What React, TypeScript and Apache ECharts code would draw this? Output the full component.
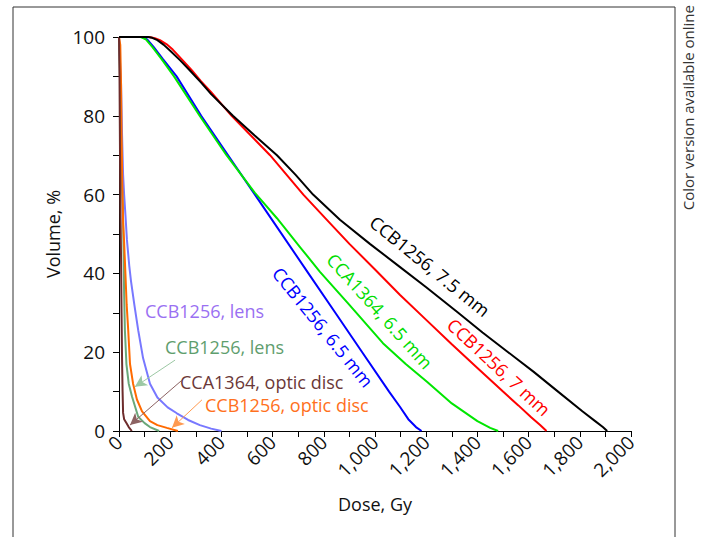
import React, { useEffect, useRef } from "react";
import * as echarts from "echarts";

// ---- data (dose in Gy, volume in %) ----
const black75Dose = [0, 113, 130, 150, 175, 200, 240, 277, 320, 360, 445, 530, 617, 690, 758, 863, 980, 1098, 1200, 1325, 1420, 1520, 1620, 1715, 1810, 1860, 1890, 1907];
const black75Vol = [100, 100, 99.8, 99.2, 98, 96.5, 94, 91.5, 88.5, 85.5, 80, 75, 70, 65, 60, 53.6, 47.5, 41.6, 36.5, 30, 25, 20, 15, 10, 5, 2.5, 1, 0];

const red7Dose = [0, 118, 140, 160, 185, 210, 250, 285, 320, 360, 440, 515, 590, 655, 720, 812, 900, 1000, 1098, 1200, 1300, 1400, 1500, 1560, 1610, 1645, 1670];
const red7Vol = [100, 100, 99.7, 99.2, 98.2, 96.8, 94, 91.5, 88.8, 86, 80, 75, 70, 65, 60, 53.6, 47.5, 41, 34.5, 28.2, 22, 16, 10, 6.5, 3.5, 1.5, 0];

const green65Dose = [0, 85, 105, 130, 165, 215, 315, 420, 530, 617, 707, 785, 900, 1031, 1120, 1203, 1300, 1400, 1450, 1481];
const green65Vol = [100, 100, 99.4, 97.5, 94.5, 90, 80, 70, 60.5, 54, 46.7, 40.4, 32, 22.3, 17, 12.5, 7, 2.5, 0.8, 0];

const blue65Dose = [0, 90, 110, 135, 170, 225, 321, 426, 531, 598, 740, 845, 950, 1055, 1098, 1130, 1160, 1182];
const blue65Vol = [100, 100, 99.4, 97.5, 94.5, 90, 80, 70, 60, 53.6, 40, 30, 20, 10, 6.1, 3, 1, 0];

const lensBDose = [0, 3, 8, 12, 16, 20, 25, 31, 40, 47, 60, 75, 94, 121, 150, 190, 226, 270, 316, 360, 400];
const lensBVol = [100, 95, 88, 75, 65, 60, 55, 48.5, 42, 38, 32, 25.6, 18.5, 12, 8.5, 6, 4.5, 2.8, 1.5, 0.6, 0];

const lensGDose = [0, 4, 8, 12, 15, 18, 20, 23, 29, 38, 51, 75, 100, 121, 157];
const lensGVol = [100, 90, 75, 62, 57, 45, 35, 25.6, 17, 12, 8.7, 3.6, 2, 1, 0];

const discBDose = [0, 5, 8, 10, 13, 16, 20, 25, 30, 36, 43, 55, 70, 90, 121, 150, 187, 230];
const discBVol = [100, 98, 88, 75, 62, 53, 48, 40, 32, 25.6, 17, 12, 8, 5, 2.5, 1.5, 0.8, 0];

const discCDose = [0, 2, 4, 6, 8, 10, 12, 14, 16, 20, 29, 38, 50];
const discCVol = [100, 90, 70, 55, 44, 30, 18, 10, 4.6, 3, 2, 1, 0];

// arrows: [fromDose, fromVol, toDose, toVol]
const arrowLensG = [219, 18, 62, 11.2];
const arrowDiscC = [246, 12.9, 43, 1.5];
const arrowDiscB = [324, 7.9, 207, 0.8];

const FONT = '"Open Sans", "Noto Sans", sans-serif';

const zip = (a: number[], b: number[]) => a.map((v, i) => [v, b[i]]);

function lineSeries(name: string, dose: number[], vol: number[], color: string, extra: any = {}) {
  return {
    name,
    type: "line",
    data: zip(dose, vol),
    showSymbol: false,
    symbol: "none",
    lineStyle: { color, width: 2 },
    itemStyle: { color },
    z: 3,
    ...extra,
  };
}

function arrow(a: number[], color: string) {
  return {
    silent: true,
    symbol: ["none", "arrow"],
    symbolSize: [9, 12],
    label: { show: false },
    lineStyle: { color, width: 1, type: "solid" },
    data: [[{ coord: [a[0], a[1]] }, { coord: [a[2], a[3]] }]],
  };
}

export default function App() {
  const ref = useRef<HTMLDivElement>(null);
  useEffect(() => {
    if (!ref.current) return;
    const chart = echarts.init(ref.current, undefined, { renderer: "svg" });
    const txt = (text: string, x: number, y: number, fill: string, rotation = 0, align = "left", size = 18) => ({
      type: "text",
      x,
      y,
      rotation,
      silent: true,
      style: { text, fill, font: `${size}px ${FONT}`, align, verticalAlign: "middle" },
    });
    const deg = Math.PI / 180;
    chart.setOption({
      animation: false,
      backgroundColor: "#fff",
      grid: { left: 119, right: 72, top: 37, bottom: 106, containLabel: false },
      xAxis: {
        type: "value",
        min: 0,
        max: 2000,
        interval: 200,
        name: "Dose, Gy",
        nameLocation: "middle",
        nameGap: 64,
        nameTextStyle: { color: "#111", fontSize: 18, fontFamily: FONT },
        axisLine: { show: true, lineStyle: { color: "#000", width: 1 } },
        axisTick: { show: true, length: 6, lineStyle: { color: "#000" } },
        minorTick: { show: true, splitNumber: 2, length: 6, lineStyle: { color: "#000" } },
        splitLine: { show: false },
        axisLabel: {
          rotate: 45,
          margin: 8,
          color: "#111",
          fontSize: 19,
          fontFamily: FONT,
          formatter: (v: number) => v.toLocaleString("en-US"),
        },
      },
      yAxis: {
        type: "value",
        min: 0,
        max: 100,
        interval: 20,
        name: "Volume, %",
        nameLocation: "middle",
        nameGap: 57,
        nameRotate: 90,
        nameTextStyle: { color: "#111", fontSize: 18, fontFamily: FONT },
        axisLine: { show: true, lineStyle: { color: "#000", width: 1 } },
        axisTick: { show: true, length: 6, lineStyle: { color: "#000" } },
        minorTick: { show: true, splitNumber: 2, length: 6, lineStyle: { color: "#000" } },
        splitLine: { show: false },
        axisLabel: { margin: 14, color: "#111", fontSize: 19, fontFamily: FONT },
      },
      series: [
        lineSeries("CCB1256, lens (1)", lensBDose, lensBVol, "#7878ff"),
        lineSeries("CCB1256, lens (2)", lensGDose, lensGVol, "#6aa87a", { markLine: arrow(arrowLensG, "#9cc8a4") }),
        lineSeries("CCB1256, optic disc", discBDose, discBVol, "#ff6a00", { markLine: arrow(arrowDiscB, "#ff9a50") }),
        lineSeries("CCA1364, optic disc", discCDose, discCVol, "#6e2c2c", { markLine: arrow(arrowDiscC, "#8c6262") }),
        lineSeries("CCB1256, 6.5 mm", blue65Dose, blue65Vol, "#0000ff"),
        lineSeries("CCA1364, 6.5 mm", green65Dose, green65Vol, "#00e600"),
        lineSeries("CCB1256, 7 mm", red7Dose, red7Vol, "#ff0000"),
        lineSeries("CCB1256, 7.5 mm", black75Dose, black75Vol, "#000000"),
      ],
      graphic: [
        {
          type: "polyline",
          silent: true,
          shape: { points: [[13, 545], [13, 7], [675, 7], [675, 545]] },
          style: { stroke: "#333", lineWidth: 1, fill: "none" },
        },
        txt("Color version available online", 688, 5, "#333", 90 * deg, "right", 15),
        txt("CCB1256, lens", 145, 311, "#9a70f2"),
        txt("CCB1256, lens", 165, 347, "#5f9e6e"),
        txt("CCA1364, optic disc", 180, 382, "#6b3838"),
        txt("CCB1256, optic disc", 205, 405, "#ff7020"),
        txt("CCB1256, 6.5 mm", 323, 327, "#0000ff", -51 * deg, "center"),
        txt("CCA1364, 6.5 mm", 380, 311, "#00dd00", -48 * deg, "center"),
        txt("CCB1256, 7 mm", 499, 367, "#ff0000", -43 * deg, "center"),
        txt("CCB1256, 7.5 mm", 430, 266, "#000000", -39 * deg, "center"),
      ],
    });
    return () => chart.dispose();
  }, []);
  return (
    <div
      ref={ref}
      style={{ position: "fixed", left: 0, top: 0, width: 703, height: 537, background: "#fff" }}
    />
  );
}
